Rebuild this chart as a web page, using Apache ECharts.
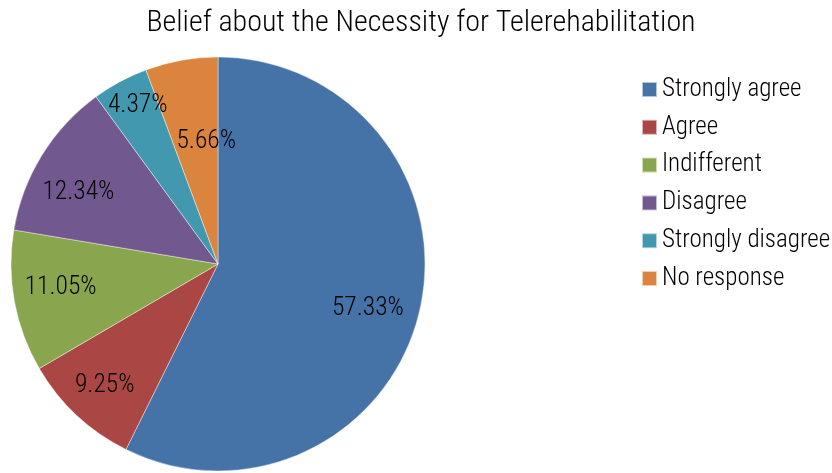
<!DOCTYPE html>
<html>
<head>
<meta charset="utf-8">
<script src="https://cdn.jsdelivr.net/npm/echarts@6/dist/echarts.min.js"></script>
<style>html,body{margin:0;padding:0;background:#fff}#c{width:832px;height:473px}</style>
</head>
<body>
<div id="c"></div>
<script>
const categories = ["Strongly agree", "Agree", "Indifferent", "Disagree", "Strongly disagree", "No response"];
const values = [57.33, 9.25, 11.05, 12.34, 4.37, 5.66];
const colors = ["#4572A7", "#AA4643", "#89A54E", "#71588F", "#4198AF", "#DB843D"];
// label placement (distance from centre along slice bisector, plus a small nudge)
const labelDist = [156, 166, 160, 157, 178, 123];
const labelNudge = [[-2, 9], [0, 0], [0, -5], [-6, 11], [4, -2], [10, -1]];

const FONT = '"Roboto Condensed", "DejaVu Sans Condensed", sans-serif';
const W = 300;
const INK = '#000';

const data = categories.map((n, i) => ({ name: n, value: values[i] }));
const total = values.reduce((a, b) => a + b, 0);
const CX = 218, CY = 264;

const chart = echarts.init(document.getElementById('c'), null, { renderer: 'canvas' });
chart.setOption({
  animation: false,
  color: colors,
  title: {
    text: 'Belief about the Necessity for Telerehabilitation',
    left: 416, textAlign: 'center', top: 3,
    textStyle: { fontFamily: FONT, fontSize: 30, fontWeight: W, color: INK }
  },
  legend: {
    orient: 'vertical', left: 636, top: 72,
    icon: 'rect', itemWidth: 15, itemHeight: 15, itemGap: 12.8,
    data: categories,
    textStyle: { fontFamily: FONT, fontSize: 25, fontWeight: W, color: INK }
  },
  series: [
    {
      type: 'pie', center: [CX, CY], radius: [0, 207],
      startAngle: 90, clockwise: true, silent: true,
      itemStyle: { borderColor: 'rgba(255,255,255,0.6)', borderWidth: 0.7 },
      label: {
        show: true, position: 'inside',
        formatter: p => p.value.toFixed(2) + '%',
        fontFamily: FONT, fontSize: 25.5, fontWeight: W, color: INK
      },
      labelLine: { show: false },
      labelLayout: function (p) {
        const i = p.dataIndex;
        let cum = 0;
        for (let k = 0; k < i; k++) cum += values[k];
        const mid = (cum + values[i] / 2) / total * 2 * Math.PI;
        return {
          x: CX + labelDist[i] * Math.sin(mid) + labelNudge[i][0],
          y: CY - labelDist[i] * Math.cos(mid) + labelNudge[i][1],
          align: 'center', verticalAlign: 'middle'
        };
      },
      data: data
    }
  ]
});
</script>
</body>
</html>
